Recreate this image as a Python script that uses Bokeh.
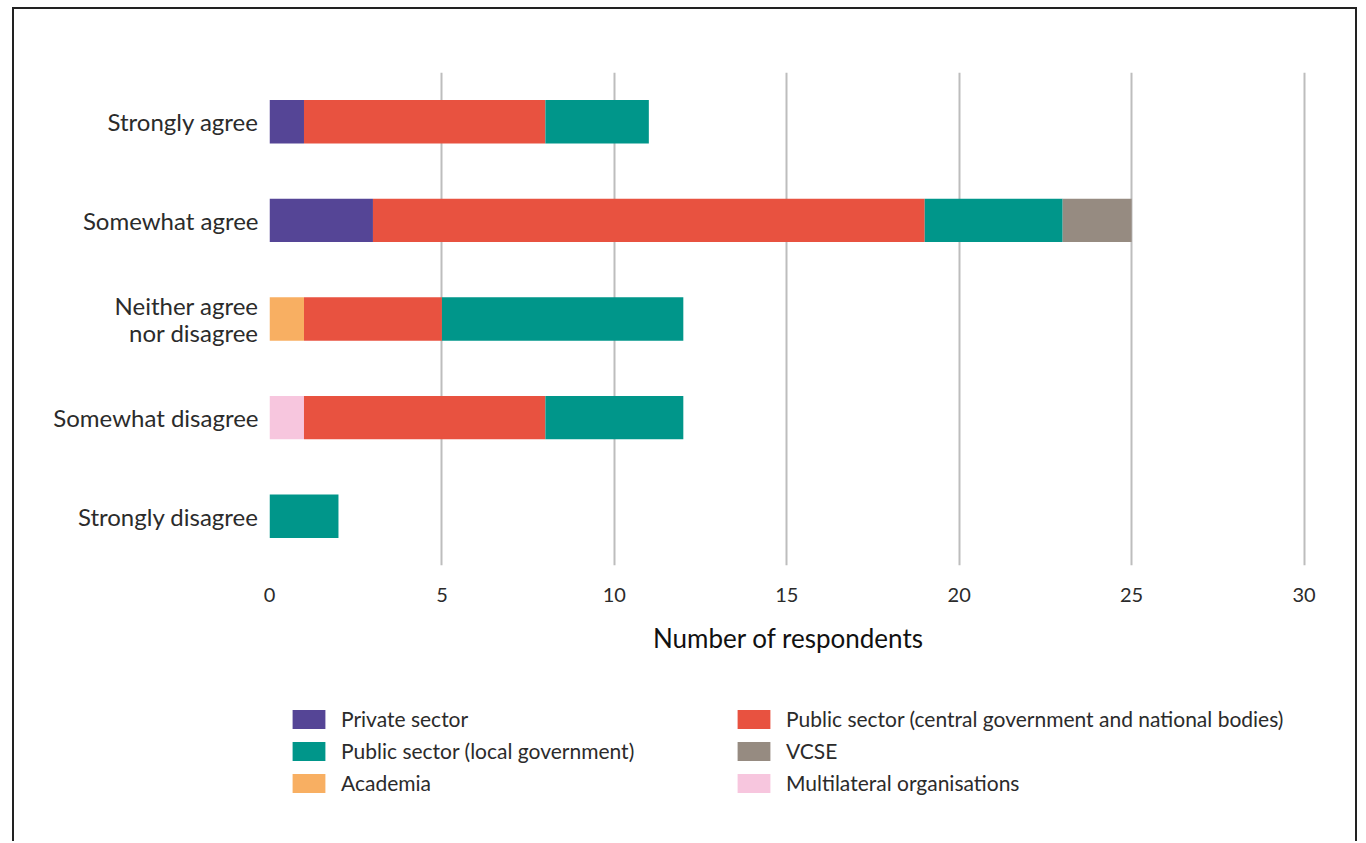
from bokeh.plotting import figure
from bokeh.layouts import column
from bokeh.models import ColumnDataSource, Legend, LegendItem, FactorRange, FixedTicker
from bokeh.embed import file_html
from bokeh.resources import INLINE

categories = ["Strongly agree", "Somewhat agree", "Neither agree\nnor disagree",
              "Somewhat disagree", "Strongly disagree"]
private_sector = [1, 3, 0, 0, 0]
academia = [0, 0, 1, 0, 0]
multilateral = [0, 0, 0, 1, 0]
public_central = [7, 16, 4, 7, 0]
public_local = [3, 4, 7, 4, 2]
vcse = [0, 2, 0, 0, 0]

series_keys = ["private", "academia", "multilateral", "central", "local", "vcse"]
series_labels = {
    "private": "Private sector",
    "academia": "Academia",
    "multilateral": "Multilateral organisations",
    "central": "Public sector (central government and national bodies)",
    "local": "Public sector (local government)",
    "vcse": "VCSE",
}
series_colors = {
    "private": "#554596",
    "academia": "#F8AF62",
    "multilateral": "#F7C6DE",
    "central": "#E85240",
    "local": "#00968A",
    "vcse": "#968B81",
}
x_ticks = [0, 5, 10, 15, 20, 25, 30]
legend_order = ["private", "local", "academia", "central", "vcse", "multilateral"]

data = dict(cat=categories, private=private_sector, academia=academia,
            multilateral=multilateral, central=public_central, local=public_local, vcse=vcse)
source = ColumnDataSource(data)

FONT = "Lato"
TXT = "#2b2b2b"
W = 1341

p = figure(width=W, height=656, output_backend="svg", toolbar_location=None,
           y_range=FactorRange(*reversed(categories), range_padding=0),
           x_range=(0, 30.1),
           min_border_left=255, min_border_right=48, min_border_top=63,
           min_border_bottom=100)
p.outline_line_color = None
p.ygrid.grid_line_color = None
p.xgrid.grid_line_color = "#bdbdbd"
p.xgrid.grid_line_width = 2
p.xaxis.ticker = FixedTicker(ticks=x_ticks)

p.hbar_stack(series_keys, y="cat", height=0.44, source=source,
             color=[series_colors[k] for k in series_keys], line_width=0)

for ax in (p.xaxis, p.yaxis):
    ax.axis_line_color = None
    ax.major_tick_line_color = None
    ax.minor_tick_line_color = None
    ax.major_label_text_font = FONT
    ax.major_label_text_color = TXT

p.yaxis.major_label_text_font_size = "24px"
p.yaxis.major_label_text_line_height = 0.95
p.yaxis.major_label_standoff = 5
p.xaxis.major_label_text_font_size = "20px"
p.xaxis.major_label_standoff = 16
p.xaxis.axis_label = "Number of respondents"
p.xaxis.axis_label_text_font = FONT
p.xaxis.axis_label_text_font_size = "26px"
p.xaxis.axis_label_text_font_style = "normal"
p.xaxis.axis_label_text_color = "#111"
p.xaxis.axis_label_standoff = 17

# legend panel: its bar renderers are hidden, only the legend is shown
lf = figure(width=W, height=176, output_backend="svg", toolbar_location=None,
            x_range=(40, 50), y_range=FactorRange(*categories),
            x_axis_type=None, y_axis_type=None,
            min_border_left=255, min_border_top=22, min_border_right=48, min_border_bottom=0)
lf.outline_line_color = None
lf.grid.grid_line_color = None
lrs = lf.hbar_stack(series_keys, y="cat", height=0.44, source=source,
                    color=[series_colors[k] for k in series_keys], line_width=0)
for r in lrs:
    r.visible = False
lmap = dict(zip(series_keys, lrs))
items = [LegendItem(label=series_labels[k], renderers=[lmap[k]]) for k in legend_order]
legend = Legend(items=items, ncols=2, orientation="vertical", location="top_left",
                glyph_width=41, glyph_height=24, label_standoff=12,
                label_text_font=FONT, label_text_font_size="21px", label_text_color=TXT,
                label_width=385, spacing=7, padding=0, margin=19,
                border_line_color=None, background_fill_alpha=0)
lf.add_layout(legend, "center")

layout = column(p, lf, spacing=0,
                styles={"margin-left": "12px", "margin-top": "7px",
                        "border-top": "2px solid #222", "border-left": "2px solid #222",
                        "border-right": "2px solid #222"})

open("out.html", "w").write(file_html(layout, INLINE))
